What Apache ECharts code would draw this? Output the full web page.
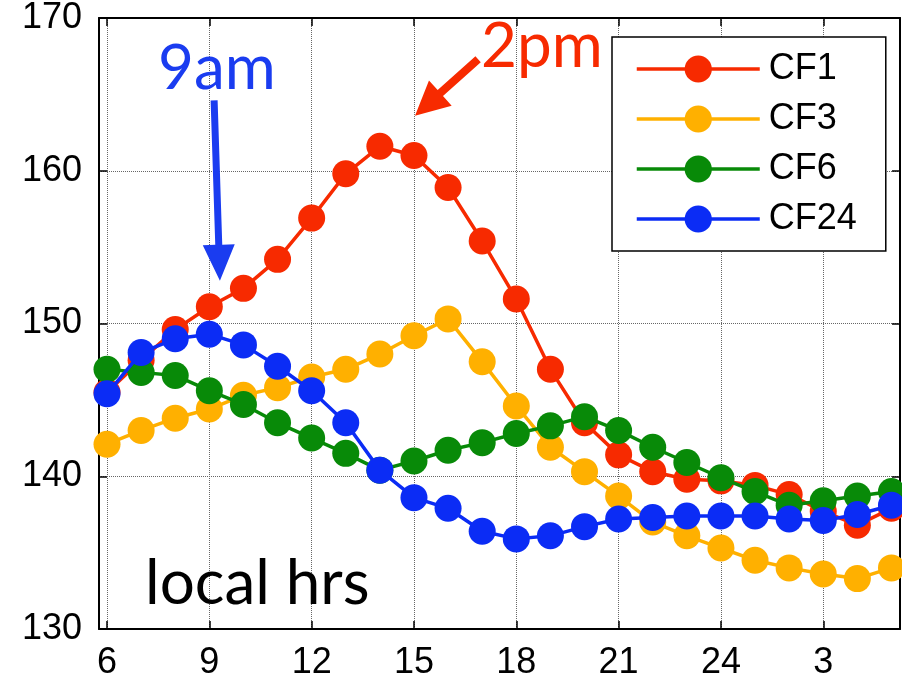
<!DOCTYPE html>
<html>
<head>
<meta charset="utf-8">
<script src="https://cdn.jsdelivr.net/npm/echarts@6/dist/echarts.min.js"></script>
<style>
html,body{margin:0;padding:0;background:#fff;}
#chart{width:902px;height:687px;}
</style>
</head>
<body>
<div id="chart"></div>
<script>
// ---- data ----
var hours = [6,7,8,9,10,11,12,13,14,15,16,17,18,19,20,21,22,23,24,25,26,27,28,29];
var seriesNames = ['CF1','CF3','CF6','CF24'];
var cf1  = [145.5,147.6,149.6,151.1,152.3,154.2,156.9,159.8,161.6,161.0,158.9,155.4,151.6,147.0,143.5,141.4,140.3,139.8,139.7,139.4,138.8,137.7,136.8,137.9];
var cf3  = [142.1,143.0,143.8,144.4,145.3,145.8,146.5,147.0,148.0,149.2,150.3,147.5,144.6,141.9,140.3,138.7,137.0,136.1,135.3,134.5,134.0,133.6,133.3,134.0];
var cf6  = [147.0,146.8,146.6,145.6,144.7,143.5,142.5,141.5,140.4,141.0,141.7,142.2,142.8,143.3,143.9,143.0,141.9,140.9,139.9,139.0,138.1,138.4,138.7,139.0];
var cf24 = [145.4,148.1,149.0,149.3,148.6,147.2,145.6,143.5,140.4,138.6,137.9,136.4,135.9,136.1,136.7,137.2,137.3,137.4,137.4,137.4,137.2,137.1,137.5,138.1];
var xTicks = [6,9,12,15,18,21,24,27];
var xTickLabels = ['6','9','12','15','18','21','24','3'];
var yTicks = [130,140,150,160,170];
// annotation anchors (data coords): [start, tip]
var arrow9am = [[9.14,164.6],[9.31,152.8]];
var arrow2pm = [[16.88,167.3],[15.03,163.6]];

var colors = ['#f72a00','#ffb000','#088a08','#0b2cf5'];
var values = [cf1,cf3,cf6,cf24];

function pairs(arr){ return hours.map(function(h,i){ return [h, arr[i]]; }); }

var chart = echarts.init(document.getElementById('chart'));
var axisBase = {
  type:'value', min:5.765, max:29.25,
  axisLine:{show:true,onZero:false,lineStyle:{color:'#000',width:2}},
  axisTick:{show:true,inside:true,length:8,customValues:xTicks,lineStyle:{color:'#000',width:1.5}},
  splitLine:{show:false}
};
var option = {
  animation:false,
  backgroundColor:'#fff',
  grid:{left:99,right:2,top:16,bottom:58,containLabel:false},
  xAxis:[
    Object.assign({}, axisBase, {
      position:'bottom',
      axisLabel:{show:true,customValues:xTicks,margin:16,fontSize:36,fontFamily:'Liberation Sans',color:'#000',
        formatter:function(v){ var i=xTicks.indexOf(v); return i>=0?xTickLabels[i]:''; }},
      splitLine:{show:true,lineStyle:{color:'#666',type:'dotted',width:1}}
    }),
    Object.assign({}, axisBase, {position:'top',axisLabel:{show:false}})
  ],
  yAxis:[
    {type:'value',min:130,max:170,interval:10,position:'left',
     axisLine:{show:true,onZero:false,lineStyle:{color:'#000',width:2}},
     axisTick:{show:true,inside:true,length:8,lineStyle:{color:'#000',width:1.5}},
     axisLabel:{show:true,margin:17,fontSize:36,fontFamily:'Liberation Sans',color:'#000'},
     splitLine:{show:true,lineStyle:{color:'#666',type:'dotted',width:1}}},
    {type:'value',min:130,max:170,interval:10,position:'right',
     axisLine:{show:true,onZero:false,lineStyle:{color:'#000',width:2}},
     axisTick:{show:true,inside:true,length:8,lineStyle:{color:'#000',width:1.5}},
     axisLabel:{show:false},splitLine:{show:false}}
  ],
  legend:{
    orient:'vertical', left:612, top:37,
    align:'left',
    backgroundColor:'#fff',
    borderColor:'#000', borderWidth:1.5, borderRadius:0,
    padding:[14,29,14,23],
    itemWidth:123, itemHeight:34, itemGap:14,
    lineStyle:{width:3.5},
    textStyle:{fontSize:36,fontFamily:'Liberation Sans',color:'#000',padding:[0,0,0,4]},
    data:seriesNames
  },
  series: seriesNames.map(function(n,i){
    return {
      name:n, type:'line', data:pairs(values[i]),
      symbol:'circle', symbolSize:27, showSymbol:true,
      lineStyle:{color:colors[i],width:3.5},
      itemStyle:{color:colors[i]},
      z:2+i
    };
  })
};
chart.setOption(option);

function arrowPoly(a, shaftW, headL, headW){
  var p0 = chart.convertToPixel({xAxisIndex:0,yAxisIndex:0}, a[0]);
  var p1 = chart.convertToPixel({xAxisIndex:0,yAxisIndex:0}, a[1]);
  var dx=p1[0]-p0[0], dy=p1[1]-p0[1], L=Math.sqrt(dx*dx+dy*dy);
  var ux=dx/L, uy=dy/L, nx=-uy, ny=ux;
  var bx=p1[0]-ux*headL, by=p1[1]-uy*headL;
  var sw=shaftW/2, hw=headW/2;
  return [
    [p0[0]+nx*sw,p0[1]+ny*sw],[bx+nx*sw,by+ny*sw],[bx+nx*hw,by+ny*hw],
    [p1[0],p1[1]],
    [bx-nx*hw,by-ny*hw],[bx-nx*sw,by-ny*sw],[p0[0]-nx*sw,p0[1]-ny*sw]
  ];
}

chart.setOption({
  graphic:[
    {type:'polygon',z:100,shape:{points:arrowPoly(arrow9am,7,36,32)},style:{fill:'#1a3cf0'}},
    {type:'polygon',z:100,shape:{points:arrowPoly(arrow2pm,8,34,34)},style:{fill:'#f72a00'}},
    {type:'text',z:100,left:158,top:38,style:{text:'9am',font:'62px Lato',fill:'#1a3cf0'}},
    {type:'text',z:100,left:481,top:16,style:{text:'2pm',font:'62px Lato',fill:'#f72a00'}},
    {type:'text',z:100,left:145,top:553,style:{text:'local hrs',font:'62px Lato',fill:'#000'}}
  ]
});
</script>
</body>
</html>
